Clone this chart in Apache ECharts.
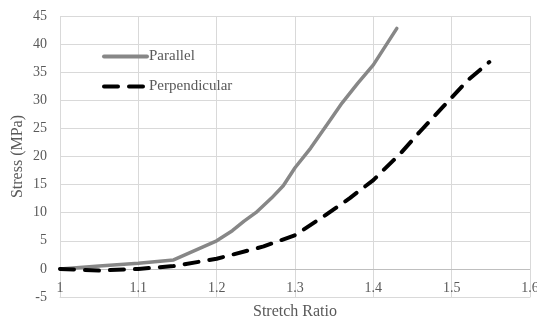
<!DOCTYPE html>
<html>
<head>
<meta charset="utf-8">
<script src="https://cdn.jsdelivr.net/npm/echarts@6/dist/echarts.min.js"></script>
<style>
html, body { margin: 0; padding: 0; background: #fff; }
#chart { width: 537px; height: 320px; }
</style>
</head>
<body>
<div id="chart"></div>
<script>
//拉伸比 - 应力数据
var parallelX = [1, 1.05, 1.1, 1.145, 1.2, 1.22, 1.235, 1.25, 1.27, 1.285, 1.3, 1.32, 1.345, 1.36, 1.38, 1.4, 1.43];
var parallelY = [0, 0.5, 1.0, 1.6, 5.0, 6.8, 8.5, 10.0, 12.6, 14.8, 18.0, 21.5, 26.5, 29.5, 33.0, 36.3, 42.8];
var perpX = [1, 1.05, 1.1, 1.145, 1.2, 1.26, 1.3, 1.335, 1.37, 1.4, 1.435, 1.46, 1.49, 1.52, 1.548];
var perpY = [0, -0.3, 0, 0.5, 1.8, 4.0, 6.0, 9.2, 12.6, 15.8, 20.6, 24.5, 29.0, 33.5, 36.8];
var zeroLine = 0;

var toPairs = function(xs, ys) {
	var out = [];
	for(var i = 0; i < xs.length; i++) {
		out.push([xs[i], ys[i]]);
	}
	return out;
};

var textColor = '#595959';
var fontFam = '"Liberation Serif", "DejaVu Serif", serif';

var chart = echarts.init(document.getElementById('chart'));
var option = {
	animation: false,
	textStyle: {
		fontFamily: fontFam
	},
	grid: {
		left: 60,
		right: 7,
		top: 16,
		bottom: 23,
		outerBoundsMode: 'none',
		containLabel: false
	},
	legend: {
		orient: 'vertical',
		left: 97,
		top: 44,
		itemWidth: 43,
		itemHeight: 14,
		itemGap: 15,
		itemStyle: {
			opacity: 0
		},
		lineStyle: {
			width: 4
		},
		textStyle: {
			color: textColor,
			fontSize: 15,
			fontFamily: fontFam,
			padding: [0, 0, 0, -3]
		},
		data: ['Parallel', 'Perpendicular']
	},
	xAxis: {
		type: 'value',
		min: 1,
		max: 1.6,
		interval: 0.1,
		name: 'Stretch Ratio',
		nameLocation: 'middle',
		nameGap: 7,
		nameMoveOverlap: false,
		nameTextStyle: {
			color: textColor,
			fontSize: 16,
			fontFamily: fontFam,
			verticalAlign: 'top'
		},
		axisLine: {
			onZero: false,
			lineStyle: {
				color: '#d9d9d9',
				width: 1
			}
		},
		axisTick: {
			show: false
		},
		axisLabel: {
			color: textColor,
			fontSize: 14,
			fontFamily: fontFam,
			margin: -16,
			formatter: function(v) {
				return String(Math.round(v * 10) / 10);
			}
		},
		splitLine: {
			show: true,
			lineStyle: {
				color: '#d9d9d9',
				width: 1
			}
		}
	},
	yAxis: {
		type: 'value',
		min: -5,
		max: 45,
		interval: 5,
		name: 'Stress (MPa)',
		nameLocation: 'middle',
		nameGap: 42,
		nameMoveOverlap: false,
		nameTextStyle: {
			color: textColor,
			fontSize: 16,
			fontFamily: fontFam,
			verticalAlign: 'middle'
		},
		axisLine: {
			show: false
		},
		axisTick: {
			show: false
		},
		axisLabel: {
			color: textColor,
			fontSize: 14,
			fontFamily: fontFam,
			margin: 13
		},
		splitLine: {
			show: true,
			lineStyle: {
				color: '#d9d9d9',
				width: 1
			}
		}
	},
	series: [{
		name: 'Parallel',
		type: 'line',
		data: toPairs(parallelX, parallelY),
		symbol: 'none',
		z: 3,
		itemStyle: {
			color: '#878787'
		},
		lineStyle: {
			color: '#878787',
			width: 3.5,
			cap: 'round',
			join: 'round'
		},
		//零值轴线
		markLine: {
			silent: true,
			symbol: 'none',
			label: {
				show: false
			},
			lineStyle: {
				color: '#bfbfbf',
				width: 1,
				type: 'solid'
			},
			z: 1,
			data: [{
				yAxis: zeroLine
			}]
		}
	}, {
		name: 'Perpendicular',
		type: 'line',
		data: toPairs(perpX, perpY),
		symbol: 'none',
		z: 4,
		itemStyle: {
			color: '#000'
		},
		lineStyle: {
			color: '#000',
			width: 4,
			type: [14, 11],
			cap: 'round',
			join: 'round'
		}
	}]
};
chart.setOption(option);
</script>
</body>
</html>
